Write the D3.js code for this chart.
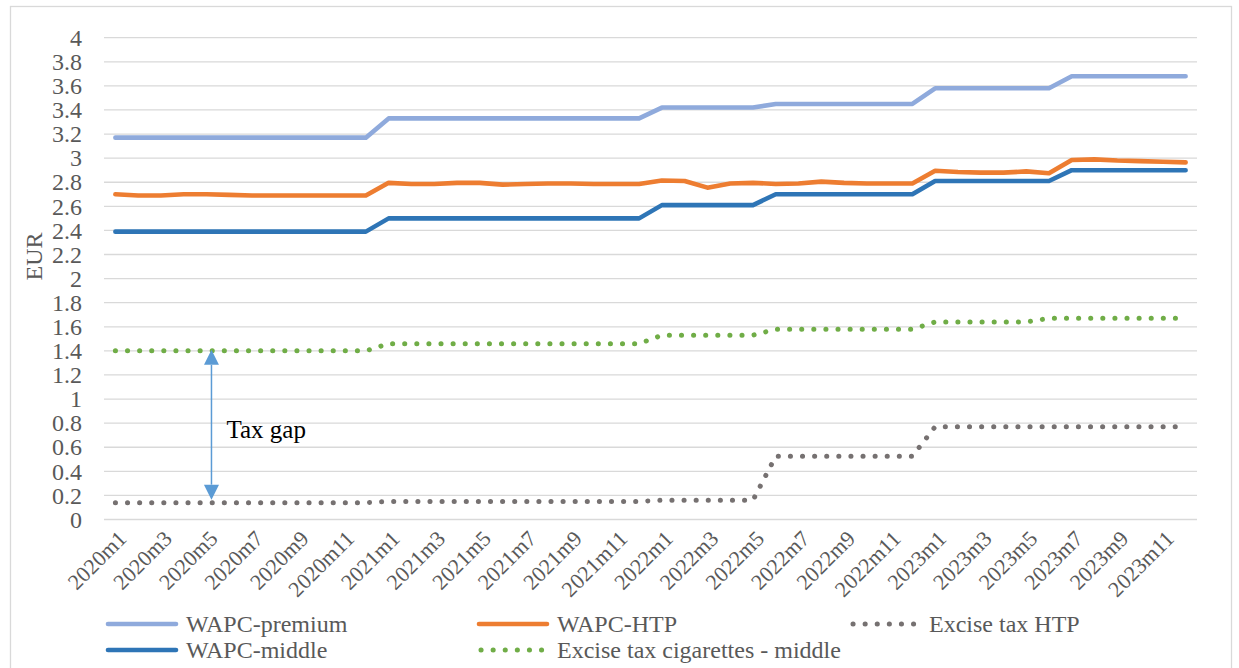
<!DOCTYPE html>
<html>
<head>
<meta charset="utf-8">
<script src="https://cdn.jsdelivr.net/npm/d3@7/dist/d3.min.js"></script>
<style>
  html, body { margin: 0; padding: 0; background: #ffffff; }
  svg { display: block; }
  svg text { font-family: "Liberation Serif", "Times New Roman", serif; }
</style>
</head>
<body>
<svg id="chart" width="1239" height="668"></svg>
<script>
// Monthly categories, 2020m1 .. 2023m12
const months = [
  "2020m1","2020m2","2020m3","2020m4","2020m5","2020m6","2020m7","2020m8","2020m9","2020m10","2020m11","2020m12",
  "2021m1","2021m2","2021m3","2021m4","2021m5","2021m6","2021m7","2021m8","2021m9","2021m10","2021m11","2021m12",
  "2022m1","2022m2","2022m3","2022m4","2022m5","2022m6","2022m7","2022m8","2022m9","2022m10","2022m11","2022m12",
  "2023m1","2023m2","2023m3","2023m4","2023m5","2023m6","2023m7","2023m8","2023m9","2023m10","2023m11","2023m12"
];

// Weighted average prices and excise taxes, EUR
const wapcPremium = [
  3.17,3.17,3.17,3.17,3.17,3.17,3.17,3.17,3.17,3.17,3.17,3.17,
  3.33,3.33,3.33,3.33,3.33,3.33,3.33,3.33,3.33,3.33,3.33,3.33,
  3.42,3.42,3.42,3.42,3.42,3.45,3.45,3.45,3.45,3.45,3.45,3.45,
  3.58,3.58,3.58,3.58,3.58,3.58,3.68,3.68,3.68,3.68,3.68,3.68
];
const wapcHTP = [
  2.70,2.69,2.69,2.70,2.70,2.695,2.69,2.69,2.69,2.69,2.69,2.69,
  2.795,2.785,2.785,2.795,2.795,2.78,2.785,2.79,2.79,2.785,2.785,2.785,
  2.815,2.81,2.755,2.79,2.795,2.785,2.79,2.805,2.795,2.79,2.79,2.79,
  2.895,2.885,2.88,2.88,2.89,2.875,2.985,2.99,2.98,2.975,2.97,2.965
];
const exciseHTP = [
  0.14,0.14,0.14,0.14,0.14,0.14,0.14,0.14,0.14,0.14,0.14,0.14,
  0.15,0.15,0.15,0.15,0.15,0.15,0.15,0.15,0.15,0.15,0.15,0.15,
  0.16,0.16,0.16,0.16,0.16,0.525,0.525,0.525,0.525,0.525,0.525,0.525,
  0.77,0.77,0.77,0.77,0.77,0.77,0.77,0.77,0.77,0.77,0.77,0.77
];
const wapcMiddle = [
  2.39,2.39,2.39,2.39,2.39,2.39,2.39,2.39,2.39,2.39,2.39,2.39,
  2.50,2.50,2.50,2.50,2.50,2.50,2.50,2.50,2.50,2.50,2.50,2.50,
  2.61,2.61,2.61,2.61,2.61,2.70,2.70,2.70,2.70,2.70,2.70,2.70,
  2.81,2.81,2.81,2.81,2.81,2.81,2.90,2.90,2.90,2.90,2.90,2.90
];
const exciseCigMiddle = [
  1.40,1.40,1.40,1.40,1.40,1.40,1.40,1.40,1.40,1.40,1.40,1.40,
  1.46,1.46,1.46,1.46,1.46,1.46,1.46,1.46,1.46,1.46,1.46,1.46,
  1.53,1.53,1.53,1.53,1.53,1.58,1.58,1.58,1.58,1.58,1.58,1.58,
  1.64,1.64,1.64,1.64,1.64,1.67,1.67,1.67,1.67,1.67,1.67,1.67
];

const yTicks = [0,0.2,0.4,0.6,0.8,1,1.2,1.4,1.6,1.8,2,2.2,2.4,2.6,2.8,3,3.2,3.4,3.6,3.8,4];
const xTickLabels = months.filter((m, i) => i % 2 === 0);

const seriesNames = ["WAPC-premium","WAPC-HTP","Excise tax HTP","WAPC-middle","Excise tax cigarettes - middle"];
const seriesValues = [wapcPremium, wapcHTP, exciseHTP, wapcMiddle, exciseCigMiddle];
const seriesColors = ["#8FAADC","#ED7D31","#767171","#2E75B6","#70AD47"];
const seriesDotted = [false,false,true,false,true];

// ---- layout ----
const FONT = "'Liberation Serif', 'Times New Roman', serif";
const svg = d3.select("#chart");
const plot = { left: 104, right: 1197, top: 37.7, bottom: 519.5 };
const textGrey = "#595959";
const gridGrey = "#D9D9D9";

const x = d3.scalePoint().domain(months).range([plot.left, plot.right]).padding(0.5);
const y = d3.scaleLinear().domain([0, 4]).range([plot.bottom, plot.top]);

// outer chart border
svg.append("rect")
  .attr("x", 10.5).attr("y", 6.5)
  .attr("width", 1221).attr("height", 680)
  .attr("fill", "none").attr("stroke", gridGrey).attr("stroke-width", 1.3);

// horizontal gridlines
svg.append("g").selectAll("line").data(yTicks).join("line")
  .attr("x1", plot.left).attr("x2", plot.right)
  .attr("y1", d => y(d)).attr("y2", d => y(d))
  .attr("stroke", gridGrey).attr("stroke-width", 1.3);

// y axis labels
const yAxis = svg.append("g")
  .attr("transform", `translate(${plot.left - 22},0)`)
  .call(d3.axisLeft(y).tickValues(yTicks).tickSize(0).tickPadding(0).tickFormat(d => String(d)));
yAxis.attr("font-family", FONT).attr("font-size", 24);
yAxis.select(".domain").remove();
yAxis.selectAll("text")
  .attr("fill", textGrey)
  .attr("font-family", FONT)
  .attr("font-size", 24);

// y axis title
svg.append("text")
  .attr("transform", `translate(42,${y(2.2) + 2}) rotate(-90)`)
  .attr("text-anchor", "middle")
  .attr("fill", textGrey)
  .attr("font-family", FONT)
  .attr("font-size", 24)
  .text("EUR");

// x axis labels, rotated
svg.append("g").selectAll("text").data(xTickLabels).join("text")
  .attr("transform", d => `translate(${x(d) + 7},${plot.bottom + 15}) rotate(-45)`)
  .attr("text-anchor", "end")
  .attr("dy", "0.35em")
  .attr("fill", textGrey)
  .attr("font-family", FONT)
  .attr("font-size", 22)
  .text(d => d);

// series lines
const line = d3.line().x((d, i) => x(months[i])).y(d => y(d));
const linesG = svg.append("g");
seriesValues.forEach((vals, k) => {
  linesG.append("path")
    .datum(vals)
    .attr("d", line)
    .attr("fill", "none")
    .attr("stroke", seriesColors[k])
    .attr("stroke-width", seriesDotted[k] ? 5 : 4.6)
    .attr("stroke-linecap", "round")
    .attr("stroke-linejoin", "round")
    .attr("stroke-dasharray", seriesDotted[k] ? "0.1 12" : null);
});

// tax gap annotation: double-headed arrow between excise levels in 2020m5
const arrowColor = "#5B9BD5";
const ax = x("2020m5") + 5;
const aTop = y(exciseCigMiddle[4]) - 1;
const aBot = y(exciseHTP[4]) - 3;
const headL = 15, headW = 7.5;
const ann = svg.append("g");
ann.append("line")
  .attr("x1", ax).attr("x2", ax)
  .attr("y1", aTop + headL).attr("y2", aBot - headL)
  .attr("stroke", arrowColor).attr("stroke-width", 1.5);
ann.append("path")
  .attr("d", `M${ax},${aTop} L${ax - headW},${aTop + headL} L${ax + headW},${aTop + headL} Z`)
  .attr("fill", arrowColor);
ann.append("path")
  .attr("d", `M${ax},${aBot} L${ax - headW},${aBot - headL} L${ax + headW},${aBot - headL} Z`)
  .attr("fill", arrowColor);
ann.append("text")
  .attr("x", ax + 15).attr("y", 438)
  .attr("fill", "#000000")
  .attr("font-family", FONT)
  .attr("font-size", 25)
  .text("Tax gap");

// legend
const legendPos = [
  { x: 106, y: 624 }, { x: 477, y: 624 }, { x: 849, y: 624 },
  { x: 106, y: 650 }, { x: 477, y: 650 }
];
const legend = svg.append("g");
seriesNames.forEach((name, k) => {
  const p = legendPos[k];
  const g = legend.append("g").attr("transform", `translate(${p.x},${p.y})`);
  g.append("line")
    .attr("x1", seriesDotted[k] ? 4 : 2).attr("x2", 70)
    .attr("y1", 0).attr("y2", 0)
    .attr("stroke", seriesColors[k])
    .attr("stroke-width", seriesDotted[k] ? 5 : 4.6)
    .attr("stroke-linecap", "round")
    .attr("stroke-dasharray", seriesDotted[k] ? "0.1 12" : null);
  g.append("text")
    .attr("x", 80).attr("y", 0).attr("dy", "0.35em")
    .attr("fill", textGrey)
    .attr("font-family", FONT)
    .attr("font-size", 24)
    .text(name);
});
</script>
</body>
</html>
